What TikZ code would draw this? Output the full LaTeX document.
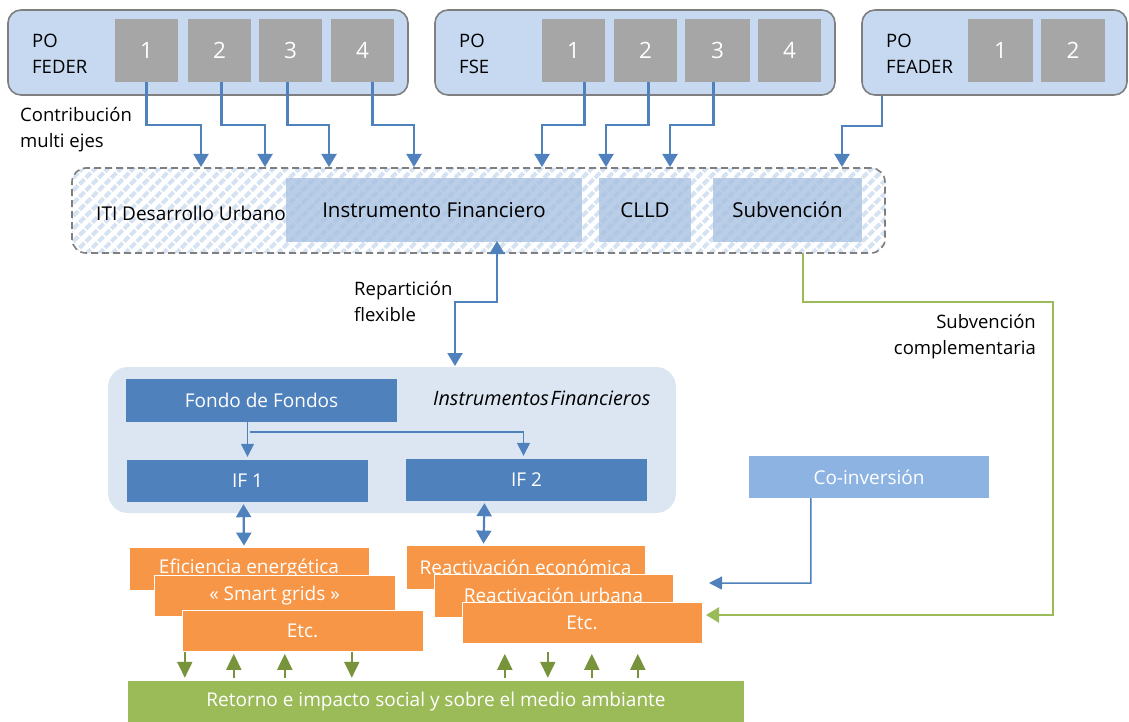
\documentclass[tikz,border=0pt]{standalone}
\usepackage{fontspec}
\setmainfont{Open Sans}
\usetikzlibrary{arrows.meta,patterns.meta,calc}
\definecolor{pofill}{HTML}{C6D9F1}
\definecolor{poedge}{HTML}{7F7F7F}
\definecolor{axisg}{HTML}{A6A6A6}
\definecolor{blu}{HTML}{4F81BD}
\definecolor{hatchc}{HTML}{D5E2F2}
\definecolor{ifin}{HTML}{A9C2E2}
\definecolor{contc}{HTML}{DCE6F2}
\definecolor{orng}{HTML}{F79646}
\definecolor{coinvc}{HTML}{8DB3E2}
\definecolor{grn}{HTML}{9BBB59}
\definecolor{dgrn}{HTML}{77933C}
\newcommand{\bx}[7]{\node[#1, inner sep=0pt, minimum width={#5-#3}, minimum height={#6-#4}] (#2) at ({(#3+#5)/2},{(#4+#6)/2}) {#7};}
\begin{document}
\begin{tikzpicture}[x=1pt,y=-1pt,
  font=\fontsize{18.5}{26}\selectfont,
  pobox/.style={draw=poedge, line width=1.6pt, fill=pofill, rounded corners=13pt},
  axbox/.style={fill=axisg, text=white, font=\fontsize{22.5}{26}\selectfont},
  itibox/.style={draw=poedge, line width=1.6pt, dash pattern=on 7pt off 4pt, rounded corners=14pt,
     preaction={fill=white}, pattern={Lines[angle=45,distance=9pt,line width=4pt]}, pattern color=hatchc},
  subbox/.style={fill=ifin, fill opacity=0.8, text opacity=1, font=\fontsize{20.5}{24}\selectfont},
  contbox/.style={fill=contc, rounded corners=20pt},
  darkbox/.style={fill=blu, text=white, font=\fontsize{19}{22}\selectfont},
  orbox/.style={fill=orng, draw=white, line width=0.8pt, text=white, font=\fontsize{19}{22}\selectfont},
  lbl/.style={anchor=west, align=left, inner sep=0pt},
  barrow/.style={draw=blu, line width=2.2pt, -{Triangle[width=15pt,length=13pt]}},
  bdarrow/.style={draw=blu, line width=2.2pt, {Triangle[width=15pt,length=13pt]}-{Triangle[width=15pt,length=13pt]}},
  tarrow/.style={draw=blu, line width=1.5pt, -{Triangle[width=13pt,length=13pt]}},
  garrow/.style={draw=dgrn, line width=2pt, -{Triangle[width=15pt,length=16pt]}},
  gline/.style={draw=grn, line width=2.4pt, -{Triangle[width=15pt,length=13pt]}},
]
\useasboundingbox (0,0) rectangle (1129,722);

% PO boxes
\bx{pobox}{feder}{8}{10}{408}{95}{}
\bx{pobox}{fse}{435}{10}{835}{95}{}
\bx{pobox}{feader}{862}{10}{1127}{95}{}
\node[lbl] (tfeder) at (32,54) {PO\\FEDER};
\node[lbl] (tfse) at (459,54) {PO\\FSE};
\node[lbl] (tfeader) at (886,54) {PO\\FEADER};

\bx{axbox}{f1}{115}{19}{178}{82}{1}
\bx{axbox}{f2}{188}{19}{251}{82}{2}
\bx{axbox}{f3}{259}{19}{322}{82}{3}
\bx{axbox}{f4}{331}{19}{394}{82}{4}
\bx{axbox}{s1}{542}{19}{605}{82}{1}
\bx{axbox}{s2}{614}{19}{677}{82}{2}
\bx{axbox}{s3}{685}{19}{750}{82}{3}
\bx{axbox}{s4}{758}{19}{821}{82}{4}
\bx{axbox}{a1}{968}{19}{1033}{82}{1}
\bx{axbox}{a2}{1041}{19}{1105}{82}{2}

\node[lbl] (contrib) at (20,130) {Contribución\\multi ejes};

% ITI box
\bx{itibox}{iti}{72}{168}{885}{253}{}
\node[lbl, font=\fontsize{19}{22}\selectfont] (titi) at (96,213) {ITI Desarrollo Urbano};
\bx{subbox}{instf}{286}{178}{582}{242}{Instrumento Financiero}
\bx{subbox}{clld}{599}{178}{691}{242}{CLLD}
\bx{subbox}{subv}{713}{178}{862}{242}{Subvención}

% arrow targets on ITI top
\coordinate (t1) at (201,167);
\coordinate (t2) at (265,167);
\coordinate (t3) at (329,167);
\coordinate (t4) at (414,167);
\coordinate (t5) at (542,167);
\coordinate (t6) at (606,167);
\coordinate (t7) at (670,167);
\coordinate (t8) at (842,167);

\draw[barrow] ($(f1.south)+(0,0)$) -- ++(0,43) -| (t1);
\draw[barrow] ($(f2.south)+(2,0)$) -- ++(0,43) -| (t2);
\draw[barrow] ($(f3.south)+(-3,0)$) -- ++(0,43) -| (t3);
\draw[barrow] ($(f4.south)+(10,0)$) -- ++(0,43) -| (t4);
\draw[barrow] ($(s1.south)+(11,0)$) -- ++(0,43) -| (t5);
\draw[barrow] ($(s2.south)+(3,0)$) -- ++(0,43) -| (t6);
\draw[barrow] ($(s3.south)+(-4,0)$) -- ++(0,43) -| (t7);
\draw[barrow] ($(feader.south west)+(21,0)$) -- ++(0,30) -| (t8);

% Instrumentos Financieros container
\bx{contbox}{cont}{108}{367}{676}{513}{}
\node[lbl, font=\fontsize{19.8}{22}\itshape] (tcont) at (433,398) {Instrumentos\hspace{0.08em}Financieros};
\bx{darkbox}{fondo}{126}{379}{397}{422}{Fondo de Fondos}
\bx{darkbox}{if1}{127}{460}{368}{502}{IF 1}
\bx{darkbox}{if2}{406}{459}{647}{501}{IF 2}

\draw[tarrow] (fondo.south -| if1.north) -- ($(if1.north)+(0,-3)$);
\draw[tarrow] ($(fondo.south -| if1.north)+(2,10)$) -| ($(if2.north)+(-3,-3)$);

% Reparticion
\coordinate (rtop) at (497,241);
\coordinate (rbot) at (455,366);
\draw[bdarrow] (rtop) -- ++(0,61) -| (rbot);
\node[lbl] (trep) at (354,302) {Repartición\\flexible};

% Orange boxes
\bx{orbox}{eff}{129}{547}{369}{590}{Eficiencia energética}
\bx{orbox}{smart}{154}{575}{395}{616}{« Smart grids »}
\bx{orbox}{etc1}{182}{610}{423}{651}{Etc.}
\bx{orbox}{reco}{406}{545}{645}{589}{Reactivación económica}
\bx{orbox}{rurb}{434}{574}{673}{617}{Reactivación urbana}
\bx{orbox}{etc2}{462}{602}{702}{643}{Etc.}

\draw[bdarrow] ($(if1.south)+(-4,2)$) -- ($(eff.north)+(-5,-1)$);
\draw[bdarrow] ($(if2.south)+(-42,2)$) -- ($(reco.north)+(-42,-1)$);

% Co-inversion
\bx{fill=coinvc, text=white, font=\fontsize{19}{22}\selectfont}{coinv}{749}{456}{989}{498}{Co-inversión}
\coordinate (cend) at (709,583);
\draw[tarrow] ($(coinv.south west)+(62,0)$) -- ++(0,85) -- (cend);

% Subvencion complementaria
\coordinate (gstart) at (803,253);
\coordinate (gend) at (706,615);
\draw[gline] (gstart) -- ++(0,49) -| ($(gend)+(347,0)$) -- (gend);
\node[anchor=east, align=right, inner sep=0pt] (tsub) at (1036,337) {Subvención\\complementaria};

% Retorno
\bx{fill=grn, text=white, font=\fontsize{19}{22}\selectfont}{ret}{128}{681}{744}{722}{Retorno e impacto social y sobre el medio ambiante}

\foreach \x in {185,352,548}
  \draw[garrow] ($(ret.north west)+(\x-128,-29)$) -- ++(0,26);
\foreach \x in {234,285,505,592,638}
  \draw[garrow] ($(ret.north west)+(\x-128,-3)$) -- ++(0,-24);
\end{tikzpicture}
\end{document}
